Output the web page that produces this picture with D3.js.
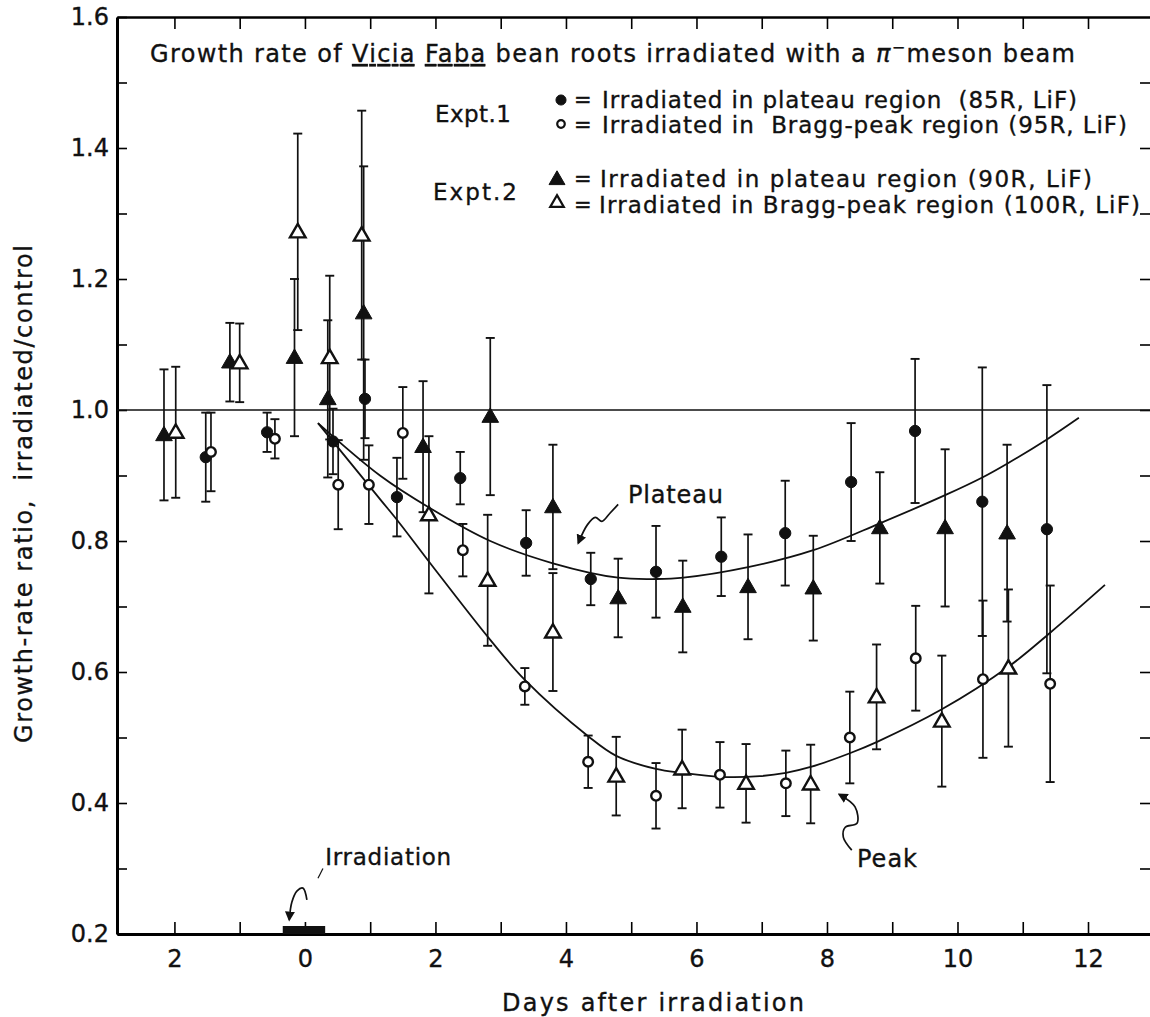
<!DOCTYPE html>
<html>
<head>
<meta charset="utf-8">
<script src="https://d3js.org/d3.v7.min.js"></script>
<style>
  body { margin: 0; background: #fff; }
  text { font-family: "DejaVu Sans", sans-serif; fill: #111; stroke: #111; stroke-width: 0.35px; }
</style>
</head>
<body>
<script>
// Expt. 1, plateau region (filled circles)
const e1PlateauDay   = [-1.52, -0.58, 0.43, 0.92, 1.41, 2.38, 3.39, 4.38, 5.38, 6.38, 7.36, 8.37, 9.35, 10.38, 11.37];
const e1PlateauRatio = [0.928, 0.966, 0.952, 1.017, 0.867, 0.896, 0.797, 0.742, 0.753, 0.776, 0.812, 0.89, 0.968, 0.86, 0.818];
const e1PlateauErr   = [0.068, 0.03, 0.05, 0.06, 0.06, 0.04, 0.05, 0.04, 0.07, 0.06, 0.08, 0.09, 0.11, 0.205, 0.22];
// Expt. 1, Bragg-peak region (open circles)
const e1PeakDay   = [-1.44, -0.46, 0.51, 0.98, 1.5, 2.42, 3.37, 4.34, 5.38, 6.36, 7.37, 8.35, 9.36, 10.39, 11.42];
const e1PeakRatio = [0.936, 0.956, 0.886, 0.886, 0.965, 0.786, 0.578, 0.463, 0.411, 0.443, 0.43, 0.50, 0.621, 0.589, 0.582];
const e1PeakErr   = [0.06, 0.03, 0.068, 0.06, 0.07, 0.04, 0.028, 0.04, 0.05, 0.05, 0.05, 0.07, 0.08, 0.12, 0.15];
// Expt. 2, plateau region (filled triangles)
const e2PlateauDay   = [-2.16, -1.15, -0.16, 0.35, 0.9, 1.81, 2.84, 3.8, 4.8, 5.79, 6.79, 7.79, 8.81, 9.81, 10.76];
const e2PlateauRatio = [0.962, 1.073, 1.08, 1.017, 1.148, 0.944, 0.99, 0.852, 0.713, 0.70, 0.73, 0.728, 0.82, 0.82, 0.812];
const e2PlateauErr   = [0.10, 0.06, 0.12, 0.12, 0.224, 0.10, 0.12, 0.095, 0.06, 0.07, 0.08, 0.08, 0.085, 0.12, 0.135];
// Expt. 2, Bragg-peak region (open triangles)
const e2PeakDay   = [-1.98, -1.0, -0.11, 0.38, 0.87, 1.9, 2.8, 3.8, 4.77, 5.78, 6.76, 7.75, 8.76, 9.76, 10.78];
const e2PeakRatio = [0.966, 1.072, 1.272, 1.08, 1.267, 0.84, 0.74, 0.661, 0.441, 0.452, 0.43, 0.429, 0.562, 0.525, 0.606];
const e2PeakErr   = [0.10, 0.06, 0.15, 0.125, 0.19, 0.12, 0.10, 0.09, 0.06, 0.06, 0.06, 0.06, 0.08, 0.10, 0.12];

// fitted curves
const plateauCurveDay   = [0.2, 1.15, 1.92, 2.84, 3.8, 4.8, 5.39, 5.8, 6.79, 7.79, 8.81, 9.81, 10.38, 10.76, 11.37, 11.86];
const plateauCurveRatio = [0.98, 0.90, 0.85, 0.80, 0.766, 0.744, 0.742, 0.744, 0.76, 0.786, 0.827, 0.87, 0.897, 0.918, 0.955, 0.988];
const peakCurveDay   = [0.2, 1.15, 1.46, 1.92, 2.84, 3.37, 4.34, 4.77, 5.38, 5.78, 6.36, 6.97, 7.37, 7.75, 8.35, 8.76, 9.76, 10.78, 11.42, 12.26];
const peakCurveRatio = [0.98, 0.864, 0.826, 0.766, 0.649, 0.588, 0.502, 0.472, 0.452, 0.446, 0.44, 0.441, 0.446, 0.455, 0.476, 0.493, 0.543, 0.608, 0.66, 0.733];

const xTicks = d3.range(-2, 13);
const yMajor = [0.2, 0.4, 0.6, 0.8, 1.0, 1.2, 1.4, 1.6];
const yMinor = [0.3, 0.5, 0.7, 0.9, 1.1, 1.3, 1.5];
const yRight = d3.range(3, 16).map(d => d / 10);
const irradiationPeriod = [-0.34, 0.31];

const width = 1150, height = 1017;
const svg = d3.select('body').append('svg')
    .attr('width', width)
    .attr('height', height);

const x = d3.scaleLinear().domain([-2.88, 12.95]).range([117, 1150]);
const y = d3.scaleLinear().domain([0.2, 1.6]).range([934, 17]);

svg.append('defs').append('marker')
    .attr('id', 'head')
    .attr('viewBox', '0 0 10 10')
    .attr('refX', 8).attr('refY', 5)
    .attr('markerWidth', 10).attr('markerHeight', 10)
    .attr('markerUnits', 'userSpaceOnUse')
    .attr('orient', 'auto')
    .append('path').attr('d', 'M0,0 L10,5 L0,10 Z').attr('fill', '#111');

// axes
const axisB = svg.append('g').attr('transform', `translate(0,${y(0.2)})`)
    .call(d3.axisBottom(x).tickValues(xTicks).tickSize(-12).tickSizeOuter(0)
        .tickFormat(d => d % 2 === 0 ? Math.abs(d) : ''));
axisB.select('.domain').attr('stroke-width', 3);
axisB.selectAll('.tick line').attr('stroke-width', 1.6);
axisB.selectAll('.tick text').attr('y', 16).attr('dy', '0.71em')
    .style('font-size', '24px').style('font-family', '"DejaVu Sans", sans-serif');

const axisT = svg.append('g').attr('transform', `translate(0,${y(1.6)})`)
    .call(d3.axisTop(x).tickValues(xTicks).tickSize(-12).tickSizeOuter(0).tickFormat(''));
axisT.select('.domain').attr('stroke-width', 2.5);
axisT.selectAll('.tick line').attr('stroke-width', 1.6);

const axisL = svg.append('g').attr('transform', `translate(${x(-2.88)},0)`)
    .call(d3.axisLeft(y).tickValues(yMajor).tickSize(-10).tickSizeOuter(0)
        .tickFormat(d3.format('.1f')));
axisL.select('.domain').attr('stroke-width', 3);
axisL.selectAll('.tick line').attr('stroke-width', 1.6);
axisL.selectAll('.tick text').attr('x', -8)
    .style('font-size', '24px').style('font-family', '"DejaVu Sans", sans-serif');
svg.append('g').attr('transform', `translate(${x(-2.88)},0)`)
    .call(d3.axisLeft(y).tickValues(yMinor).tickSize(-10).tickFormat(''))
    .call(g => g.select('.domain').remove())
    .selectAll('.tick line').attr('stroke-width', 1.6);

svg.append('g').attr('transform', `translate(${width},0)`)
    .call(d3.axisLeft(y).tickValues(yRight).tickSize(10).tickFormat(''))
    .call(g => g.select('.domain').remove())
    .selectAll('.tick line').attr('stroke-width', 1.6);

// reference line at ratio 1
svg.append('line')
    .attr('x1', x(-2.88)).attr('x2', width)
    .attr('y1', y(1)).attr('y2', y(1))
    .attr('stroke', '#111').attr('stroke-width', 1.5);

// irradiation bar
svg.append('rect')
    .attr('x', x(irradiationPeriod[0]))
    .attr('width', x(irradiationPeriod[1]) - x(irradiationPeriod[0]))
    .attr('y', y(0.2) - 8).attr('height', 8)
    .attr('fill', '#111');

// curves
const curve = d3.line().x(d => x(d[0])).y(d => y(d[1])).curve(d3.curveCatmullRom.alpha(0.5));
svg.append('path').datum(d3.zip(plateauCurveDay, plateauCurveRatio))
    .attr('d', curve).attr('fill', 'none').attr('stroke', '#111').attr('stroke-width', 1.8);
svg.append('path').datum(d3.zip(peakCurveDay, peakCurveRatio))
    .attr('d', curve).attr('fill', 'none').attr('stroke', '#111').attr('stroke-width', 1.8);

// error bars and markers
function series(days, ratio, err, kind) {
    const data = days.map((d, i) => ({ d: d, v: ratio[i], e: err[i] }));
    const g = svg.append('g');
    const bars = g.selectAll('g.bar').data(data).enter().append('g').attr('class', 'bar');
    bars.append('line')
        .attr('x1', p => x(p.d)).attr('x2', p => x(p.d))
        .attr('y1', p => y(p.v - p.e)).attr('y2', p => y(p.v + p.e))
        .attr('stroke', '#111').attr('stroke-width', 1.7);
    [1, -1].forEach(s => {
        bars.append('line')
            .attr('x1', p => x(p.d) - 4.5).attr('x2', p => x(p.d) + 4.5)
            .attr('y1', p => y(p.v + s * p.e)).attr('y2', p => y(p.v + s * p.e))
            .attr('stroke', '#111').attr('stroke-width', 1.9);
    });
    const tri = kind.indexOf('tri') >= 0;
    const filled = kind.indexOf('filled') >= 0;
    g.selectAll('path.mark').data(data).enter().append('path')
        .attr('class', 'mark')
        .attr('transform', p => `translate(${x(p.d)},${y(p.v) + (tri ? 1 : 0)})`)
        .attr('d', d3.symbol().type(tri ? d3.symbolTriangle : d3.symbolCircle)
            .size(tri ? (filled ? 120 : 105) : (filled ? 100 : 72)))
        .attr('fill', filled ? '#111' : '#fff')
        .attr('stroke', '#111')
        .attr('stroke-width', filled ? 1 : 2.4);
}
series(e1PlateauDay, e1PlateauRatio, e1PlateauErr, 'filled circle');
series(e1PeakDay, e1PeakRatio, e1PeakErr, 'open circle');
series(e2PlateauDay, e2PlateauRatio, e2PlateauErr, 'filled tri');
series(e2PeakDay, e2PeakRatio, e2PeakErr, 'open tri');

// title
const title = svg.append('text').attr('x', 150).attr('y', 62)
    .attr('textLength', 925).attr('lengthAdjust', 'spacing')
    .style('font-size', '24px');
title.append('tspan').text('Growth rate of ');
title.append('tspan').text('Vicia').attr('text-decoration', 'underline');
title.append('tspan').text(' ');
title.append('tspan').text('Faba').attr('text-decoration', 'underline');
title.append('tspan').text(' bean roots irradiated with a ');
title.append('tspan').text('π').style('font-style', 'italic');
title.append('tspan').text('−').attr('dy', -9).style('font-size', '16px');
title.append('tspan').text('meson beam').attr('dy', 9);

// legend
const legend = [
    { kind: 'filled circle', y: 100, base: 108, x0: 602, len: 475, label: 'Irradiated in plateau region  (85R, LiF)' },
    { kind: 'open circle', y: 124, base: 133, x0: 602, len: 525, label: 'Irradiated in  Bragg-peak region (95R, LiF)' },
    { kind: 'filled tri', y: 180, base: 187, x0: 600, len: 492, label: 'Irradiated in plateau region (90R, LiF)' },
    { kind: 'open tri', y: 203, base: 213, x0: 599, len: 541, label: 'Irradiated in Bragg-peak region (100R, LiF)' }
];
legend.forEach(l => {
    const tri = l.kind.indexOf('tri') >= 0;
    const filled = l.kind.indexOf('filled') >= 0;
    svg.append('path')
        .attr('transform', `translate(${tri ? 557 : 561},${l.y})`)
        .attr('d', d3.symbol().type(tri ? d3.symbolTriangle : d3.symbolCircle)
            .size(tri ? (filled ? 110 : 80) : (filled ? 80 : 45)))
        .attr('fill', filled ? '#111' : '#fff')
        .attr('stroke', '#111').attr('stroke-width', filled ? 1 : 2.2);
    svg.append('text').attr('x', 574).attr('y', l.base - 1).text('=').style('font-size', '21px');
    svg.append('text').attr('x', l.x0).attr('y', l.base)
        .attr('textLength', l.len).attr('lengthAdjust', 'spacing')
        .style('font-size', '23px').style('white-space', 'pre').text(l.label);
});
svg.append('text').attr('x', 435).attr('y', 122).attr('textLength', 76)
    .style('font-size', '23px').text('Expt.1');
svg.append('text').attr('x', 433).attr('y', 200).attr('textLength', 84)
    .style('font-size', '23px').text('Expt.2');

// axis titles
svg.append('text').attr('x', 502).attr('y', 1011)
    .attr('textLength', 302).attr('lengthAdjust', 'spacing')
    .style('font-size', '24px').text('Days after irradiation');
svg.append('text')
    .attr('transform', 'translate(32,743) rotate(-90)')
    .attr('textLength', 498).attr('lengthAdjust', 'spacing')
    .style('font-size', '24px').style('white-space', 'pre')
    .text('Growth-rate ratio,  irradiated/control');

// annotations (positions in data units)
const annot = d3.line().x(d => x(d[0])).y(d => y(d[1])).curve(d3.curveCatmullRom);
const plateauArrow = [[4.8, 0.856], [4.67, 0.842], [4.55, 0.830], [4.45, 0.836], [4.33, 0.825], [4.19, 0.797]];
const peakArrow = [[8.38, 0.328], [8.25, 0.348], [8.28, 0.363], [8.46, 0.369], [8.43, 0.394], [8.19, 0.413]];
const irrArrow = [[0.03, 0.252], [-0.03, 0.27], [-0.12, 0.266], [-0.2, 0.249], [-0.24, 0.222]];
[plateauArrow, peakArrow, irrArrow].forEach(a => {
    svg.append('path').datum(a).attr('d', annot)
        .attr('fill', 'none').attr('stroke', '#111').attr('stroke-width', 1.7)
        .attr('marker-end', 'url(#head)');
});
svg.append('line')
    .attr('x1', x(0.2)).attr('y1', y(0.285)).attr('x2', x(0.276)).attr('y2', y(0.3))
    .attr('stroke', '#111').attr('stroke-width', 1.2);

svg.append('text').attr('x', x(4.95)).attr('y', y(0.858)).style('font-size', '24px')
    .attr('textLength', 95).text('Plateau');
svg.append('text').attr('x', x(8.46)).attr('y', y(0.302)).style('font-size', '24px')
    .attr('textLength', 60).text('Peak');
svg.append('text').attr('x', x(0.31)).attr('y', y(0.305)).style('font-size', '23px')
    .attr('textLength', 126).text('Irradiation');
</script>
</body>
</html>
